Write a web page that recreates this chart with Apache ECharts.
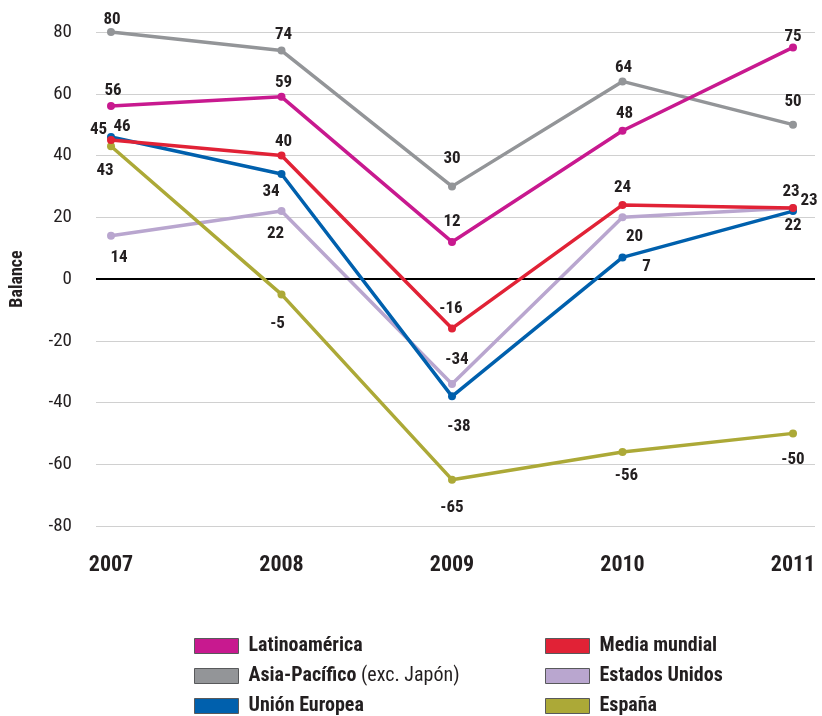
<!DOCTYPE html>
<html><head><meta charset="utf-8">
<script src="https://cdn.jsdelivr.net/npm/echarts@6/dist/echarts.min.js"></script>
<style>html,body{margin:0;padding:0;background:#fff}#c{width:822px;height:716px}</style>
</head><body><div id="c"></div>
<script>
var categories = ['2007', '2008', '2009', '2010', '2011'];
var yTicks = [-80, -60, -40, -20, 0, 20, 40, 60, 80];
var latinoamerica = [56, 59, 12, 48, 75];
var asiaPacifico = [80, 74, 30, 64, 50];
var unionEuropea = [46, 34, -38, 7, 22];
var mediaMundial = [45, 40, -16, 24, 23];
var estadosUnidos = [14, 22, -34, 20, 23];
var espana = [43, -5, -65, -56, -50];

// label placement per point: [position, dx, dy]
var lpLatino = [['top',2,2],['top',2,3.5],['top',0,-3],['top',2,0],['top',0,7]];
var lpAsia = [['top',1,5],['top',2,2],['top',0,-10],['top',1,4],['top',0,-5.5]];
var lpUE = [['top',11,7],['bottom',-10.5,0],['bottom',7,13],['bottom',24,-8.5],['bottom',0,-3]];
var lpMedia = [['top',-12.5,7],['top',2,4],['top',-1,-2],['top',0,0],['top',-2,1]];
var lpEEUU = [['bottom',8,4],['bottom',-6,5],['top',5,-6.5],['bottom',12,1.5],['top',16,10]];
var lpEsp = [['bottom',-6,7],['bottom',-4,12],['bottom',0,11],['bottom',4,6.5],['bottom',0,8.5]];

var FONT = '"Roboto Condensed", "Open Sans Condensed", "Liberation Sans", sans-serif';
var TXT = '#231f20';

function mk(name, color, vals, lp, z) {
  return {
    name: name, type: 'line', z: z,
    data: vals.map(function (v, i) {
      return {
        value: [Number(categories[i]), v],
        label: { position: lp[i][0], offset: [lp[i][1], lp[i][2]] }
      };
    }),
    symbol: 'circle', symbolSize: 8,
    lineStyle: { color: color, width: 3.5 },
    itemStyle: { color: color },
    label: {
      show: true, distance: 5, color: TXT, fontFamily: FONT,
      fontSize: 17, fontWeight: 'bold',
      formatter: function (p) { return p.value[1]; }
    },
    emphasis: { disabled: true }
  };
}

var years = categories.map(Number);
var chart = echarts.init(document.getElementById('c'), null, { renderer: 'canvas' });
var series = [
  mk('Asia-Pacífico', '#939598', asiaPacifico, lpAsia, 2),
  mk('Latinoamérica', '#c8198f', latinoamerica, lpLatino, 3),
  mk('Estados Unidos', '#b9a6cf', estadosUnidos, lpEEUU, 4),
  mk('España', '#aca937', espana, lpEsp, 5),
  mk('Unión Europea', '#0060ad', unionEuropea, lpUE, 6),
  mk('Media mundial', '#e12236', mediaMundial, lpMedia, 7)
];
series[0].markLine = {
  silent: true, symbol: 'none', label: { show: false },
  lineStyle: { color: '#000', width: 2, type: 'solid' },
  data: [{ yAxis: 0 }]
};

var legendText = {
  fontFamily: FONT, fontSize: 20, fontWeight: 'bold', color: TXT, lineHeight: 20,
  padding: [0, 0, 0, 5],
  rich: { n: { fontFamily: FONT, fontSize: 20, fontWeight: 'normal', color: TXT, lineHeight: 20 } }
};
var legendBase = {
  orient: 'vertical', top: 636, height: 90, itemGap: 10,
  itemWidth: 44, itemHeight: 15, icon: 'rect',
  itemStyle: { borderColor: '#58595b', borderWidth: 1 },
  textStyle: legendText, selectedMode: false, padding: 0
};

chart.setOption({
  animation: false,
  backgroundColor: '#fff',
  grid: { left: 95, right: 7, top: 32, bottom: 190 },
  xAxis: {
    type: 'value',
    min: years[0] - 0.088, max: years[years.length - 1] + 0.129,
    axisLine: { show: false }, axisTick: { show: false }, splitLine: { show: false },
    axisLabel: {
      customValues: years, margin: 28,
      fontFamily: FONT, fontSize: 22, fontWeight: 'bold', color: TXT,
      formatter: function (v) { return String(v); }
    }
  },
  yAxis: {
    type: 'value', min: yTicks[0], max: yTicks[yTicks.length - 1], interval: 20,
    name: 'Balance', nameLocation: 'middle', nameGap: 70, nameRotate: 90,
    nameTextStyle: { fontFamily: FONT, fontSize: 18, fontWeight: 'bold', color: TXT },
    axisLine: { show: false }, axisTick: { show: false },
    axisLabel: { fontFamily: FONT, fontSize: 19, color: TXT, margin: 24 },
    splitLine: { lineStyle: { color: '#d0d0d0', width: 1.2 } }
  },
  legend: [
    Object.assign({}, legendBase, {
      left: 194,
      data: ['Latinoamérica', 'Asia-Pacífico', 'Unión Europea'],
      formatter: function (n) { return n === 'Asia-Pacífico' ? n + ' {n|(exc. Japón)}' : n; }
    }),
    Object.assign({}, legendBase, {
      left: 545,
      data: ['Media mundial', 'Estados Unidos', 'España']
    })
  ],
  series: series
});
</script></body></html>
